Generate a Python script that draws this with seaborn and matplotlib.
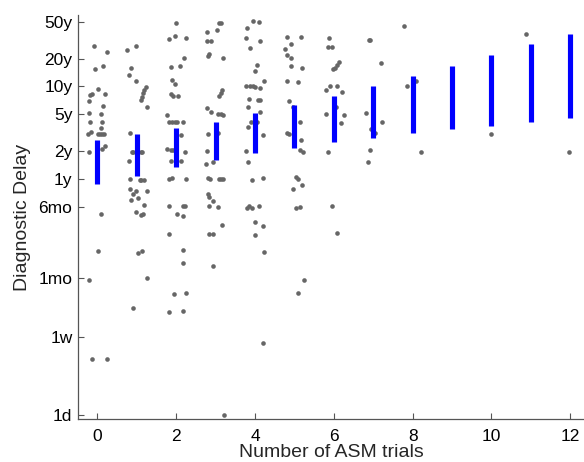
import numpy as np
import pandas as pd
import seaborn as sns
import matplotlib
matplotlib.use("Agg")
import matplotlib.pyplot as plt

# number of patients per ASM-trial count (0..12)
n_per_trial = [29, 35, 40, 37, 36, 26, 18, 9, 4, 0, 1, 1, 1]

# diagnostic delay (days) per patient, grouped by trial count in order
delay_days = [
    # 0 trials
    10046, 8650, 5623, 6057, 3417, 3015, 2943, 3015, 2535, 2253, 1879, 1819, 1490, 1513, 1283,
    1105, 1161, 1122, 1122, 1122, 1122, 832, 760, 716, 150, 61, 29, 4.1, 4.1,
    # 1
    8954, 10046, 5808, 4842, 4169, 3614, 3334, 3069, 2818, 2600, 2183, 1150, 716, 716, 716,
    716, 569, 363, 357, 357, 357, 283, 271, 271, 250, 215, 224, 161, 190, 148, 150, 57, 60, 31, 14.4,
    # 2
    17900, 11885, 12700, 12080, 7447, 5902, 6057, 4246, 3900, 2992, 2844, 2844, 1790, 1514, 1493,
    1493, 1493, 1493, 1089, 762, 742, 742, 716, 569, 569, 360, 369, 363, 185, 185, 185, 152, 145,
    91, 62, 45, 20.5, 21.2, 13.3, 13.6,
    # 3
    17700, 17700, 14760, 14040, 11300, 11300, 8170, 7770, 7340, 2870, 3120, 3305, 2143, 1941, 1845,
    1816, 1790, 1114, 1133, 736, 531, 550, 369, 360, 364, 364, 364, 250, 233, 210, 185, 180, 115,
    91, 91, 41.5, 1.0,
    # 4
    18700, 18000, 15500, 12270, 11300, 9420, 6210, 5346, 4169, 3707, 3650, 3707, 3590, 3530, 2663,
    2577, 2618, 2183, 1941, 1493, 1493, 1327, 1089, 736, 550, 354, 375, 174, 185, 177, 185, 123,
    113, 89, 59, 6.1,
    # 5
    12390, 12390, 10570, 9250, 7960, 7447, 6110, 5808, 4169, 4036, 2535, 2163, 1493, 1133, 1114,
    959, 753, 711, 381, 363, 283, 313, 174, 180, 21.2, 29,
    # 6
    12080, 9727, 9727, 6640, 6210, 5808, 5570, 3707, 3707, 3305, 3190, 2183, 1832, 1790, 1455,
    716, 185, 94,
    # 7
    11670, 11670, 6470, 1893, 1503, 1253, 1133, 753, 550,
    # 8
    16550, 3680, 4170, 711,
    # 10, 11, 12
    1105, 13460, 711,
]

# horizontal jitter of each patient's dot, as seen in the reference (same order)
trial_jitter = [
    -0.10, 0.24, -0.07, 0.14, 0.02, -0.15, -0.19, 0.20, -0.22, 0.14, -0.22, 0.08, -0.19, 0.12, 0.08,
    -0.24, -0.17, 0.02, 0.07, 0.12, 0.17, 0.20, 0.12, -0.22, 0.08, 0.02, -0.22, -0.15, 0.24,
    -0.24, -0.02, -0.14, -0.19, -0.02, 0.22, 0.19, 0.16, 0.14, 0.10, 0.25, -0.18, -0.10, -0.13, 0.10,
    0.14, -0.20, -0.18, 0.07, 0.11, 0.17, -0.18, -0.02, 0.25, -0.10, -0.14, 0.04, -0.02, 0.19, 0.10,
    0.15, 0.02, 0.13, 0.25, -0.10,
    -0.01, -0.18, -0.03, 0.25, 0.19, -0.14, 0.09, -0.11, -0.03, -0.14, -0.08, 0.04, -0.23, -0.19,
    -0.11, -0.03, 0.03, 0.16, 0.13, -0.23, -0.14, -0.08, 0.23, -0.14, 0.11, -0.18, -0.11, 0.25,
    -0.19, 0.16, 0.23, 0.01, 0.18, -0.19, 0.16, 0.16, -0.05, 0.25, -0.19, 0.16,
    0.09, 0.14, 0.03, -0.22, -0.23, -0.11, -0.16, -0.19, 0.18, 0.09, 0.13, 0.15, -0.22, -0.11, 0.06,
    0.14, 0.19, -0.19, 0.06, -0.21, -0.25, -0.06, -0.19, -0.14, 0.08, 0.14, 0.19, -0.19, -0.16,
    -0.06, -0.18, 0.05, 0.15, -0.18, -0.06, -0.06, 0.21,
    -0.04, 0.11, -0.21, -0.23, 0.13, -0.14, 0.04, -0.01, 0.23, -0.23, -0.13, -0.06, 0.01, 0.13,
    -0.16, 0.08, 0.13, -0.19, 0.13, -0.11, 0.04, -0.19, 0.21, -0.23, -0.19, -0.08, 0.19, -0.21,
    -0.16, -0.08, 0.11, 0.01, 0.19, -0.01, 0.23, 0.19,
    -0.20, 0.16, -0.09, -0.25, -0.20, -0.08, -0.08, 0.19, -0.20, 0.08, -0.14, -0.04, 0.13, -0.20,
    -0.14, 0.16, 0.13, 0.21, 0.03, 0.08, -0.03, 0.19, 0.03, 0.13, 0.09, 0.25,
    -0.13, -0.16, -0.04, 0.14, 0.08, 0.03, -0.01, -0.09, 0.08, -0.21, 0.21, 0.06, -0.19, 0.26, 0.18,
    -0.16, -0.04, 0.08,
    -0.11, -0.07, 0.19, -0.19, 0.22, -0.06, 0.04, -0.08, -0.14,
    -0.22, -0.15, 0.09, 0.21,
    0.00, -0.13, -0.03,
]

# model interval for the median delay at each trial count (days)
ci_trials = list(range(13))
ci_low = [318, 394, 486, 582, 689, 791, 905, 1000, 1132, 1250, 1360, 1500, 1646]
ci_high = [959, 1105, 1283, 1513, 1865, 2291, 2871, 3680, 4720, 6110, 7980, 10400, 13550]

tick_days = [1, 7, 30.44, 182.6, 365.25, 730.5, 1826, 3652.5, 7305, 18262]
tick_labels = ["1d", "1w", "1mo", "6mo", "1y", "2y", "5y", "10y", "20y", "50y"]

trials = np.repeat(np.arange(len(n_per_trial)), n_per_trial)
df = pd.DataFrame({
    "x": trials + np.array(trial_jitter),
    "delay": delay_days,
})

sns.set_style("ticks")
plt.rcParams["font.family"] = ["Liberation Sans", "DejaVu Sans"]

fig = plt.figure(figsize=(5.84, 4.62), dpi=100)
ax = fig.add_axes([78 / 584, 43 / 462, 506 / 584, 404 / 462])

sns.scatterplot(data=df, x="x", y="delay", color="#666666", s=11,
                linewidth=0, ax=ax, zorder=2)
ax.vlines(ci_trials, ci_low, ci_high, color="#0000ff", linewidth=3.7,
          zorder=3)

ax.set_yscale("log")
ax.set_ylim(0.916, 21600)
ax.set_xlim(-0.495, 12.35)
ax.set_yticks(tick_days)
ax.set_yticklabels(tick_labels)
ax.minorticks_off()
ax.set_xticks(range(0, 13, 2))

ax.set_xlabel("Number of ASM trials", fontsize=14, labelpad=0.5)
ax.set_ylabel("Diagnostic Delay", fontsize=14, labelpad=5)
ax.tick_params(direction="in", length=4, width=0.8, color="#555555",
               labelsize=12.5, labelcolor="black")
ax.tick_params(axis="x", pad=7)
ax.tick_params(axis="y", pad=4)

for side in ["top", "right"]:
    ax.spines[side].set_visible(False)
for side in ["left", "bottom"]:
    ax.spines[side].set_color("#555555")
    ax.spines[side].set_linewidth(0.9)

fig.savefig("out.png", dpi=100)
